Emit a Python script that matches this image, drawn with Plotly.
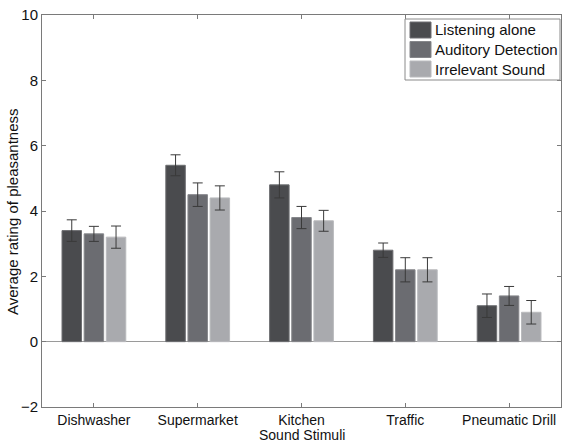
import plotly.graph_objects as go

categories = ["Dishwasher", "Supermarket", "Kitchen", "Traffic", "Pneumatic Drill"]
series_names = ["Listening alone", "Auditory Detection", "Irrelevant Sound"]
listening = [3.4, 5.4, 4.8, 2.8, 1.1]
listening_err = [0.33, 0.32, 0.4, 0.22, 0.36]
detection = [3.3, 4.5, 3.8, 2.2, 1.4]
detection_err = [0.23, 0.36, 0.34, 0.37, 0.29]
irrelevant = [3.2, 4.4, 3.7, 2.2, 0.9]
irrelevant_err = [0.34, 0.37, 0.32, 0.37, 0.36]
y_ticks = [-2, 0, 2, 4, 6, 8, 10]

colors = ["#4a4b4e", "#6b6c71", "#a9aaae"]
outlines = ["#6e6f72", "#86878b", "#b9babd"]

W, H = 562, 442
ML, MR, MT, MB = 42, 1, 15, 35
PW, PH = W - ML - MR, H - MT - MB
FONT = "Liberation Sans, Arial, Helvetica"


def px(x):
    return (x - ML) / PW


def py(y):
    return (H - MB - y) / PH


fig = go.Figure()
for name, vals, errs, c, oc in zip(series_names, [listening, detection, irrelevant],
                                   [listening_err, detection_err, irrelevant_err], colors, outlines):
    fig.add_trace(go.Bar(
        x=categories, y=vals, name=name,
        marker=dict(color=c, line=dict(color=oc, width=1)),
        error_y=dict(type="data", array=errs, visible=True, color="#3a3a3a",
                     thickness=1, width=5),
    ))

# legend box drawn by hand (large swatches as in the reference)
shapes = [dict(type="rect", xref="paper", yref="paper",
               x0=px(405), x1=px(560), y0=py(80), y1=py(19),
               fillcolor="white", line=dict(color="#8a8a8a", width=1), layer="above")]
annotations = []
row_centers = [30, 49.5, 69]
for name, c, oc, yc in zip(series_names, colors, outlines, row_centers):
    shapes.append(dict(type="rect", xref="paper", yref="paper",
                       x0=px(410), x1=px(431), y0=py(yc + 8), y1=py(yc - 8),
                       fillcolor=c, line=dict(color=oc, width=1), layer="above"))
    annotations.append(dict(text=name, xref="paper", yref="paper", x=px(433), y=py(yc),
                            xanchor="left", yanchor="middle", showarrow=False,
                            font=dict(family=FONT, size=15, color="#111")))

annotations += [
    dict(text="Sound Stimuli", xref="paper", yref="paper", x=px(302), y=py(435),
         xanchor="center", yanchor="middle", showarrow=False,
         font=dict(family=FONT, size=14, color="#111")),
    dict(text="Average rating of pleasantness", xref="paper", yref="paper",
         x=px(12), y=py(212), xanchor="center", yanchor="middle", textangle=-90,
         showarrow=False, font=dict(family=FONT, size=15, color="#111")),
]

axis_common = dict(showline=True, linecolor="#7a7a7a", linewidth=1, mirror="ticks",
                   ticks="inside", ticklen=4, tickcolor="#7a7a7a", showgrid=False,
                   tickfont=dict(family=FONT, size=15, color="#111"))

fig.update_layout(
    width=W, height=H,
    margin=dict(l=ML, r=MR, t=MT, b=MB),
    plot_bgcolor="white", paper_bgcolor="white",
    barmode="group", bargap=0.36, bargroupgap=0.12,
    showlegend=False,
    font=dict(family=FONT, color="#111"),
    shapes=shapes,
    annotations=annotations,
)
fig.update_xaxes(**axis_common, range=[-0.5, 4.5], ticklabelstandoff=0)
fig.update_xaxes(tickfont=dict(family=FONT, size=14, color="#111"))
fig.update_yaxes(**axis_common, range=[-2, 10], tickvals=y_ticks,
                 zeroline=True, zerolinecolor="#9a9a9a", zerolinewidth=1)

fig.write_html("out.html", config={"displayModeBar": False},
               post_script="document.body.style.margin='0';document.body.style.overflow='hidden';")
